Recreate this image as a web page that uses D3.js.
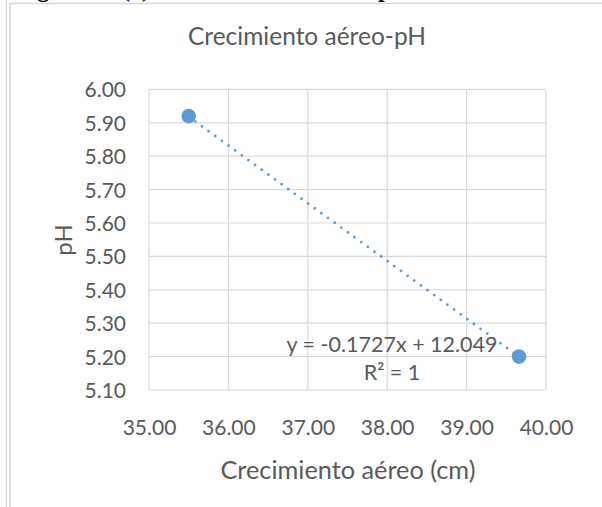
<!DOCTYPE html>
<html>
<head>
<meta charset="utf-8">
<script src="https://cdn.jsdelivr.net/npm/d3@7"></script>
<style>
  html, body { margin: 0; padding: 0; background: #fff; }
  svg { display: block; }
</style>
</head>
<body>
<svg id="chart" width="602" height="507"></svg>
<script>
// ---- data ----
const xValues = [35.5, 39.66];
const yValues = [5.92, 5.20];
const xTicks = [35, 36, 37, 38, 39, 40];
const yTicks = [5.1, 5.2, 5.3, 5.4, 5.5, 5.6, 5.7, 5.8, 5.9, 6.0];
const chartTitle = "Crecimiento aéreo-pH";
const xTitle = "Crecimiento aéreo (cm)";
const yTitle = "pH";
const trendSlope = -0.1727;
const trendIntercept = 12.049;
const equationText = "y = -0.1727x + 12.049";
const r2Text = "R² = 1";

const svg = d3.select("#chart");
const font = "Lato, 'Open Sans', sans-serif";
const textColor = "#595959";
const gridColor = "#D9D9D9";
const blue = "#5B9BD5";

// heading above the chart (cut off by the page edge, as in the reference)
const head = svg.append("text")
  .attr("y", -3)
  .attr("font-family", "'Liberation Serif', serif")
  .attr("font-weight", "bold")
  .attr("font-size", 24)
  .attr("fill", "#000");
head.append("tspan").attr("x", 16).text("Figura");
head.append("tspan").attr("x", 122).text("(x) Crecimiento aéreo -");
head.append("tspan").attr("x", 378).text("pH");

// chart frame
svg.append("rect")
  .attr("x", 10).attr("y", 3.5)
  .attr("width", 640).attr("height", 560)
  .attr("fill", "#fff")
  .attr("stroke", "#D6D6D6").attr("stroke-width", 1.5);
svg.append("line")
  .attr("x1", 6.5).attr("x2", 6.5).attr("y1", 0).attr("y2", 507)
  .attr("stroke", "#D6D6D6").attr("stroke-width", 1.2);

const plot = { left: 149, right: 546, top: 89.4, bottom: 390 };

const x = d3.scaleLinear().domain([35, 40]).range([plot.left, plot.right]);
const y = d3.scaleLinear().domain([5.1, 6.0]).range([plot.bottom, plot.top]);

// gridlines
svg.append("g").selectAll("line.h").data(yTicks).join("line")
  .attr("x1", plot.left).attr("x2", plot.right)
  .attr("y1", d => y(d)).attr("y2", d => y(d))
  .attr("stroke", gridColor).attr("stroke-width", 1.2);
svg.append("g").selectAll("line.v").data(xTicks).join("line")
  .attr("x1", d => x(d)).attr("x2", d => x(d))
  .attr("y1", plot.top).attr("y2", plot.bottom)
  .attr("stroke", gridColor).attr("stroke-width", 1.2);

// axes (labels only, lines drawn by gridlines)
const xAxis = svg.append("g")
  .attr("transform", `translate(0,${plot.bottom})`)
  .call(d3.axisBottom(x).tickValues(xTicks).tickFormat(d3.format(".2f")).tickSize(0).tickPadding(23));
const yAxis = svg.append("g")
  .attr("transform", `translate(${plot.left},0)`)
  .call(d3.axisLeft(y).tickValues(yTicks).tickFormat(d3.format(".2f")).tickSize(0).tickPadding(23));
[xAxis, yAxis].forEach(a => {
  a.select(".domain").remove();
  a.selectAll("text")
    .attr("font-family", font).attr("font-size", 21).attr("fill", textColor);
});
xAxis.selectAll("text").attr("y", 2).attr("dy", "2.05em");
yAxis.selectAll("text").attr("dy", "0.36em");

// trendline
const xr = d3.extent(xValues);
svg.append("line")
  .attr("x1", x(xr[0])).attr("y1", y(trendSlope * xr[0] + trendIntercept))
  .attr("x2", x(xr[1])).attr("y2", y(trendSlope * xr[1] + trendIntercept))
  .attr("stroke", blue).attr("stroke-width", 2.8)
  .attr("stroke-linecap", "round")
  .attr("stroke-dasharray", "0 8.2");

// points
svg.append("g").selectAll("circle").data(xValues).join("circle")
  .attr("cx", d => x(d)).attr("cy", (d, i) => y(yValues[i]))
  .attr("r", 7.3).attr("fill", blue);

// trendline label
svg.append("text")
  .attr("x", 392).attr("y", 352)
  .attr("text-anchor", "middle")
  .attr("font-family", font).attr("font-size", 21.5).attr("fill", textColor)
  .text(equationText);
svg.append("text")
  .attr("x", 392).attr("y", 380)
  .attr("text-anchor", "middle")
  .attr("font-family", font).attr("font-size", 21.5).attr("fill", textColor)
  .text(r2Text);

// titles
svg.append("text")
  .attr("x", 307).attr("y", 45)
  .attr("text-anchor", "middle")
  .attr("font-family", font).attr("font-size", 24.5).attr("fill", textColor)
  .text(chartTitle);
svg.append("text")
  .attr("x", 348).attr("y", 479)
  .attr("text-anchor", "middle")
  .attr("font-family", font).attr("font-size", 25.3).attr("fill", textColor)
  .text(xTitle);
svg.append("text")
  .attr("transform", "translate(72,240) rotate(-90)")
  .attr("text-anchor", "middle")
  .attr("font-family", font).attr("font-size", 24).attr("fill", textColor)
  .text(yTitle);
</script>
</body>
</html>
